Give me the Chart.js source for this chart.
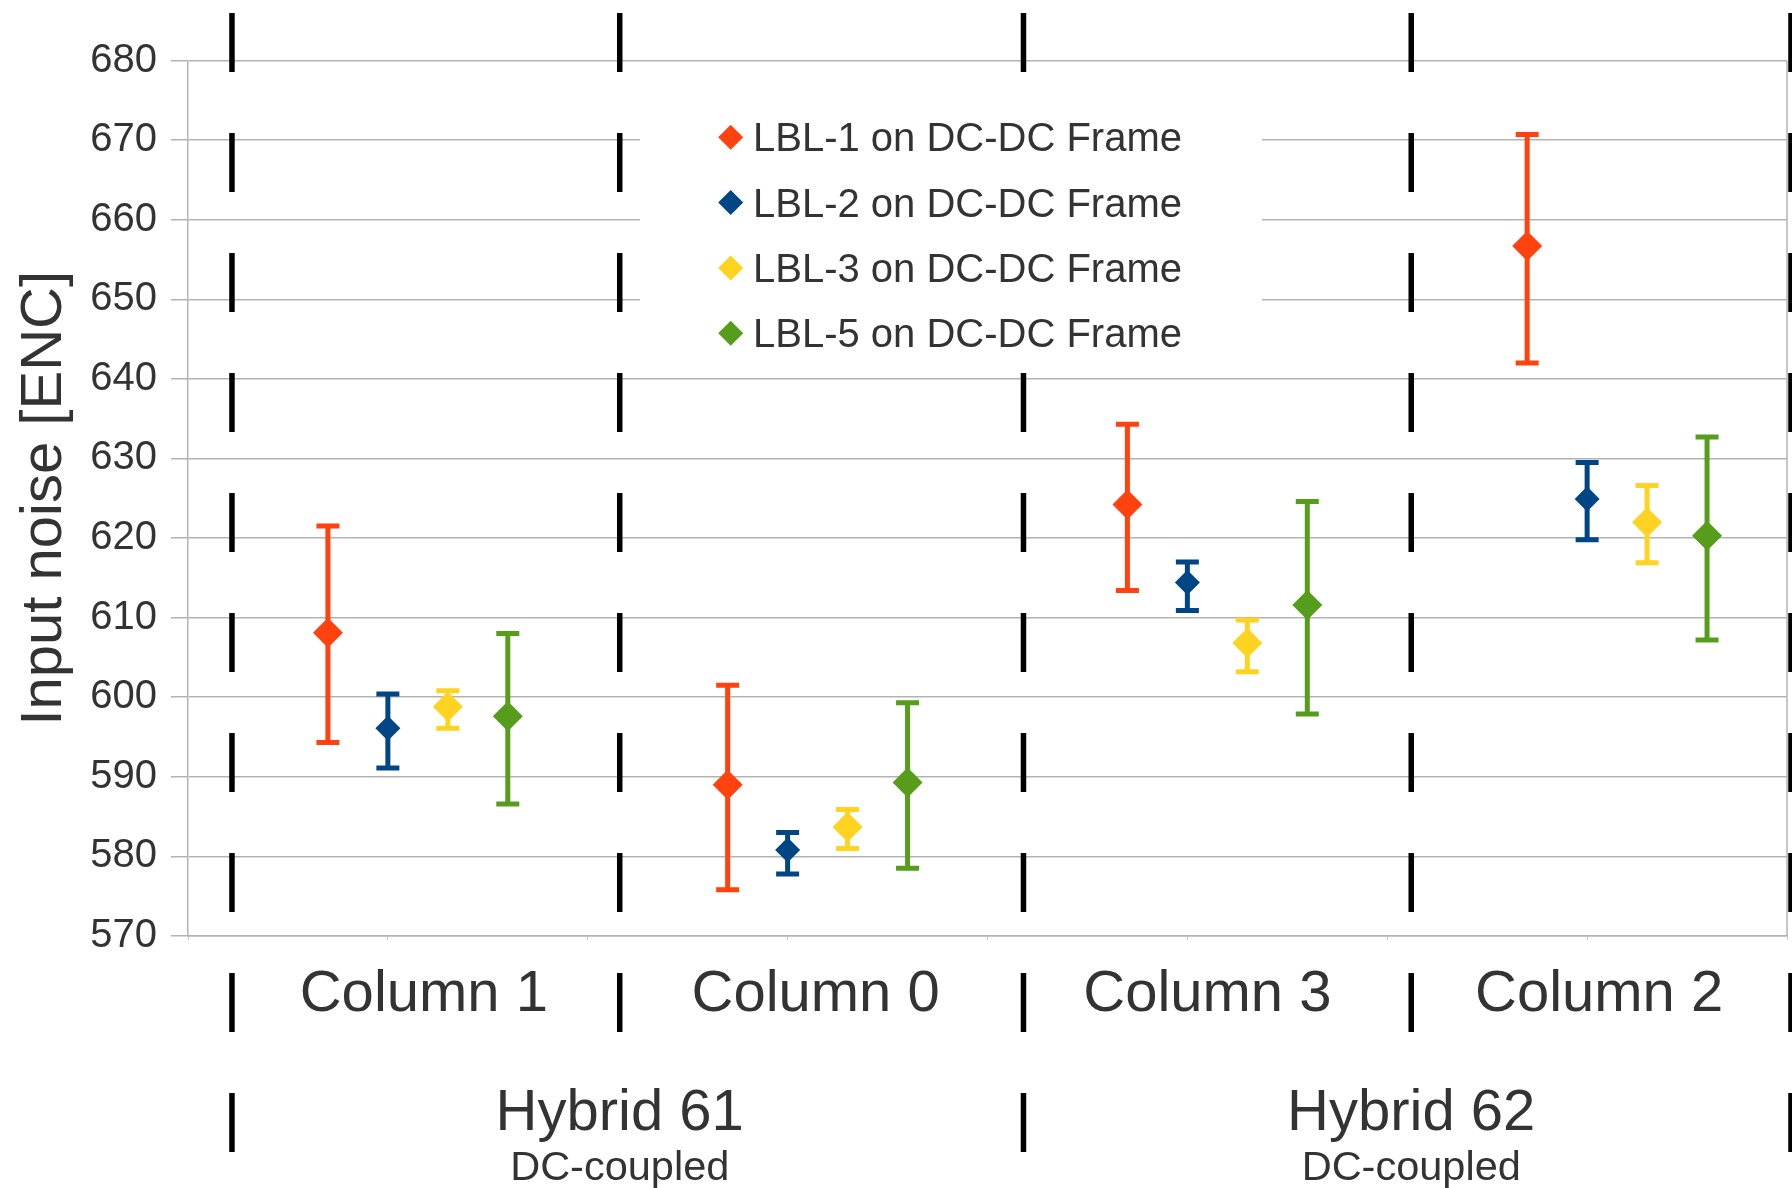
<!DOCTYPE html>
<html>
<head>
<meta charset="utf-8">
<script src="https://cdn.jsdelivr.net/npm/chart.js@4.4.0/dist/chart.umd.min.js"></script>
<style>
  html, body { margin: 0; padding: 0; background: #fff; }
</style>
</head>
<body>
<canvas id="grafico" width="1792" height="1188"></canvas>
<script>
// categories and group labels
const categories = ["Column 1", "Column 0", "Column 3", "Column 2"];
const hybrids = ["Hybrid 61", "Hybrid 62"];
const hybridNote = "DC-coupled";

// series
const seriesNames = ["LBL-1 on DC-DC Frame", "LBL-2 on DC-DC Frame", "LBL-3 on DC-DC Frame", "LBL-5 on DC-DC Frame"];
const seriesColors = ["#ff420e", "#004586", "#ffd320", "#579d1c"];

// mean noise and error bar ends, one entry per category
const lbl1Mean = [608.1, 589.0, 624.2, 656.7];
const lbl1Low  = [594.3, 575.8, 613.4, 642.0];
const lbl1High = [621.5, 601.5, 634.3, 670.7];

const lbl2Mean = [596.1, 580.8, 614.4, 624.9];
const lbl2Low  = [591.1, 577.8, 610.9, 619.8];
const lbl2High = [600.4, 583.0, 617.0, 629.5];

const lbl3Mean = [598.8, 583.7, 606.8, 622.0];
const lbl3Low  = [596.1, 581.0, 603.2, 616.9];
const lbl3High = [600.8, 585.9, 609.7, 626.6];

const lbl5Mean = [597.6, 589.3, 611.6, 620.3];
const lbl5Low  = [586.6, 578.5, 597.9, 607.2];
const lbl5High = [608.0, 599.3, 624.6, 632.7];

const yMin = 570, yMax = 680, yStep = 10;

// layout (x-scale units, one unit per category)
const seriesOffset = [-0.15, 0, 0.15, 0.30];
const markerSize = [15, 12.5, 15, 15];
const separatorPos = [0.11, 1.08, 2.09, 3.06, 4.01];
const labelPos = [0.59, 1.57, 2.55, 3.53];

const fontFamily = "'Liberation Sans', Arial, sans-serif";
const textColor = "#333333";

function buildData(mean, low, high, s) {
    return mean.map(function (v, i) {
        return { x: i + 0.5 + seriesOffset[s], y: v, low: low[i], high: high[i] };
    });
}

const allMeans = [lbl1Mean, lbl2Mean, lbl3Mean, lbl5Mean];
const allLows = [lbl1Low, lbl2Low, lbl3Low, lbl5Low];
const allHighs = [lbl1High, lbl2High, lbl3High, lbl5High];

const datasets = seriesNames.map(function (name, s) {
    return {
        label: name,
        data: buildData(allMeans[s], allLows[s], allHighs[s], s),
        backgroundColor: seriesColors[s],
        borderWidth: 0,
        pointStyle: "rectRot",
        pointRadius: markerSize[s],
        pointHoverRadius: markerSize[s]
    };
});

// error bars drawn through the scales
const errorBars = {
    id: "errorBars",
    beforeDatasetsDraw(chart) {
        const ctx = chart.ctx;
        const xs = chart.scales.x, ys = chart.scales.y;
        chart.data.datasets.forEach(function (ds) {
            ctx.save();
            ctx.strokeStyle = ds.backgroundColor;
            ctx.lineWidth = 5;
            ds.data.forEach(function (p) {
                const px = xs.getPixelForValue(p.x);
                const top = ys.getPixelForValue(p.high);
                const bot = ys.getPixelForValue(p.low);
                ctx.beginPath();
                ctx.moveTo(px, top); ctx.lineTo(px, bot);
                ctx.moveTo(px - 11.5, top); ctx.lineTo(px + 11.5, top);
                ctx.moveTo(px - 11.5, bot); ctx.lineTo(px + 11.5, bot);
                ctx.stroke();
            });
            ctx.restore();
        });
    }
};

// dashed separators, legend box and category labels
const decorations = {
    id: "decorations",
    afterDatasetsDraw(chart) {
        const ctx = chart.ctx;
        const xs = chart.scales.x;
        const area = chart.chartArea;

        // right border of the plot
        ctx.save();
        ctx.strokeStyle = "#b3b3b3";
        ctx.lineWidth = 1.5;
        ctx.beginPath();
        ctx.moveTo(area.right, area.top);
        ctx.lineTo(area.right, area.bottom);
        ctx.stroke();
        ctx.restore();

        // black dashed separators (the ones under the hybrid names stop above them)
        ctx.save();
        ctx.strokeStyle = "#000";
        ctx.lineWidth = 5.5;
        ctx.setLineDash([59, 61]);
        separatorPos.forEach(function (v, i) {
            const px = xs.getPixelForValue(v);
            const end = (i === 1 || i === 3) ? 1033 : 1153;
            ctx.beginPath();
            ctx.moveTo(px, 13);
            ctx.lineTo(px, end);
            ctx.stroke();
        });
        ctx.restore();

        // legend
        ctx.save();
        ctx.fillStyle = "#fff";
        ctx.fillRect(640, 98, 622, 262);
        ctx.font = "40px " + fontFamily;
        ctx.textAlign = "left";
        ctx.textBaseline = "alphabetic";
        seriesNames.forEach(function (name, s) {
            const rowY = 137.3 + s * 65.3;
            ctx.fillStyle = seriesColors[s];
            ctx.beginPath();
            ctx.moveTo(730.7 - 12.5, rowY);
            ctx.lineTo(730.7, rowY - 12.5);
            ctx.lineTo(730.7 + 12.5, rowY);
            ctx.lineTo(730.7, rowY + 12.5);
            ctx.closePath();
            ctx.fill();
            ctx.fillStyle = textColor;
            ctx.fillText(name, 753, rowY + 14);
        });
        ctx.restore();

        // category and group labels
        ctx.save();
        ctx.fillStyle = textColor;
        ctx.textAlign = "center";
        ctx.textBaseline = "alphabetic";
        ctx.font = "58px " + fontFamily;
        categories.forEach(function (c, i) {
            ctx.fillText(c, xs.getPixelForValue(labelPos[i]), 1011);
        });
        hybrids.forEach(function (h, i) {
            const px = xs.getPixelForValue(separatorPos[1 + i * 2]);
            ctx.font = "58px " + fontFamily;
            ctx.fillText(h, px, 1130);
            ctx.font = "41.5px " + fontFamily;
            ctx.fillText(hybridNote, px, 1180);
        });
        ctx.restore();
    }
};

const ctx = document.getElementById("grafico").getContext("2d");
const myChart = new Chart(ctx, {
    type: "scatter",
    data: { datasets: datasets },
    plugins: [errorBars, decorations],
    options: {
        responsive: false,
        animation: false,
        devicePixelRatio: 1,
        layout: { autoPadding: false, padding: { top: 60.5, right: 5, left: 0, bottom: 0 } },
        plugins: {
            legend: { display: false },
            tooltip: { enabled: false }
        },
        scales: {
            x: {
                type: "linear",
                min: 0,
                max: 4,
                ticks: { display: false, stepSize: 0.5 },
                grid: { drawOnChartArea: false, color: "#c8c8c8", tickLength: 4 },
                border: { color: "#b3b3b3", width: 1.5 },
                afterFit(scale) { scale.height = 252; }
            },
            y: {
                min: yMin,
                max: yMax,
                ticks: {
                    stepSize: yStep,
                    color: textColor,
                    padding: 14,
                    font: { size: 40, family: fontFamily }
                },
                grid: { color: "#b3b3b3", lineWidth: 1.5, tickLength: 17 },
                border: { color: "#b3b3b3", width: 1.5 },
                title: {
                    display: true,
                    text: "Input noise [ENC]",
                    color: textColor,
                    font: { size: 58, family: fontFamily },
                    padding: { top: 10, bottom: 0 }
                },
                afterFit(scale) { scale.width = 188; }
            }
        }
    }
});
</script>
</body>
</html>
